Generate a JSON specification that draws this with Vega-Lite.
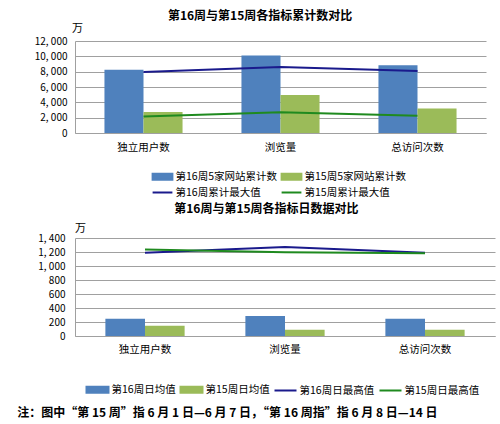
{
  "$schema": "https://vega.github.io/schema/vega-lite/v6.json",
  "padding": {"left": 17, "top": 10, "right": 5, "bottom": 0},
  "background": "white",
  "datasets": {
    "cumBars": [
      {"指标": "独立用户数", "系列": "第16周5家网站累计数", "值": 8250},
      {"指标": "独立用户数", "系列": "第15周5家网站累计数", "值": 2750},
      {"指标": "浏览量", "系列": "第16周5家网站累计数", "值": 10100},
      {"指标": "浏览量", "系列": "第15周5家网站累计数", "值": 4950},
      {"指标": "总访问次数", "系列": "第16周5家网站累计数", "值": 8850},
      {"指标": "总访问次数", "系列": "第15周5家网站累计数", "值": 3200}
    ],
    "cumLines": [
      {"指标": "独立用户数", "系列": "第16周累计最大值", "值": 7950},
      {"指标": "浏览量", "系列": "第16周累计最大值", "值": 8600},
      {"指标": "总访问次数", "系列": "第16周累计最大值", "值": 8100},
      {"指标": "独立用户数", "系列": "第15周累计最大值", "值": 2150},
      {"指标": "浏览量", "系列": "第15周累计最大值", "值": 2700},
      {"指标": "总访问次数", "系列": "第15周累计最大值", "值": 2250}
    ],
    "dayBars": [
      {"指标": "独立用户数", "系列": "第16周日均值", "值": 245},
      {"指标": "独立用户数", "系列": "第15周日均值", "值": 145},
      {"指标": "浏览量", "系列": "第16周日均值", "值": 285},
      {"指标": "浏览量", "系列": "第15周日均值", "值": 90},
      {"指标": "总访问次数", "系列": "第16周日均值", "值": 245},
      {"指标": "总访问次数", "系列": "第15周日均值", "值": 90}
    ],
    "dayLines": [
      {"指标": "独立用户数", "系列": "第16周日最高值", "值": 1190},
      {"指标": "浏览量", "系列": "第16周日最高值", "值": 1270},
      {"指标": "总访问次数", "系列": "第16周日最高值", "值": 1190},
      {"指标": "独立用户数", "系列": "第15周日最高值", "值": 1235},
      {"指标": "浏览量", "系列": "第15周日最高值", "值": 1195},
      {"指标": "总访问次数", "系列": "第15周日最高值", "值": 1182}
    ]
  },
  "title": {
    "text": "注：图中“第 15 周”指 6 月 1 日—6 月 7 日，“第 16 周指”指 6 月 8 日—14 日",
    "orient": "bottom",
    "anchor": "start",
    "frame": "bounds",
    "dx": -17,
    "offset": 11,
    "font": "Noto Sans CJK SC",
    "fontSize": 12,
    "fontWeight": "bold",
    "color": "black"
  },
  "spacing": 5,
  "resolve": {"scale": {"x": "independent", "y": "independent", "color": "independent", "xOffset": "independent"}},
  "vconcat": [
    {
      "title": {"text": "第16周与第15周各指标累计数对比", "frame": "bounds", "anchor": "middle", "offset": -1},
      "width": 411,
      "height": 92,
      "encoding": {
        "x": {
          "field": "指标", "type": "nominal",
          "sort": ["独立用户数", "浏览量", "总访问次数"],
          "scale": {"type": "band", "paddingInner": 0.43, "paddingOuter": 0.215},
          "axis": {"title": null, "labelAngle": 0, "ticks": false, "labelPadding": 9, "grid": false}
        },
        "y": {
          "field": "值", "type": "quantitative",
          "scale": {"domain": [0, 12000]},
          "axis": {
            "values": [0, 2000, 4000, 6000, 8000, 10000, 12000],
            "labelExpr": "replace(format(datum.value, ','), ',', ', ')",
            "grid": true, "labelOverlap": false,
            "title": "万", "titleAngle": 0, "titleX": 2, "titleY": -13,
            "titleAlign": "center", "titleBaseline": "middle",
            "labelPadding": 8
          }
        },
        "color": {
          "field": "系列", "type": "nominal",
          "scale": {
            "domain": ["第16周5家网站累计数", "第15周5家网站累计数", "第16周累计最大值", "第15周累计最大值"],
            "range": ["#4f81bd", "#9bbb59", "#1a1a8c", "#1f8a1f"]
          },
          "legend": {
            "title": null, "orient": "bottom", "columns": 2, "offset": 17,
            "symbolType": "M-1.8,-0.55H1.8V0.55H-1.8Z", "symbolSize": 121,
            "labelOffset": 6.5, "rowPadding": 2, "columnPadding": 0,
            "encode": {"symbols": {"update": {
              "shape": {"signal": "test(/最/, datum.value) ? 'M-1.8,0H1.8' : 'M-1.8,-0.55H1.8V0.55H-1.8Z'"},
              "fill": {"signal": "test(/最/, datum.value) ? 'transparent' : (test(/16周/, datum.value) ? '#4f81bd' : '#9bbb59')"},
              "stroke": {"signal": "test(/最/, datum.value) ? (test(/16周/, datum.value) ? '#1a1a8c' : '#1f8a1f') : 'transparent'"},
              "strokeWidth": {"value": 2},
              "opacity": {"value": 1}
            }}}
          }
        }
      },
      "layer": [
        {
          "data": {"name": "cumBars"},
          "mark": {"type": "bar", "width": {"band": 1}},
          "encoding": {
            "xOffset": {"field": "系列", "type": "nominal", "scale": {"domain": ["第16周5家网站累计数", "第15周5家网站累计数"], "paddingInner": 0, "paddingOuter": 0}}
          }
        },
        {
          "data": {"name": "cumLines"},
          "mark": {"type": "line", "strokeWidth": 2}
        }
      ]
    },
    {
      "title": {"text": "第16周与第15周各指标日数据对比", "frame": "bounds", "anchor": "middle", "offset": 6},
      "width": 420,
      "height": 98,
      "encoding": {
        "x": {
          "field": "指标", "type": "nominal",
          "sort": ["独立用户数", "浏览量", "总访问次数"],
          "scale": {"type": "band", "paddingInner": 0.434, "paddingOuter": 0.217},
          "axis": {"title": null, "labelAngle": 0, "ticks": false, "labelPadding": 8, "grid": false}
        },
        "y": {
          "field": "值", "type": "quantitative",
          "scale": {"domain": [0, 1400]},
          "axis": {
            "values": [0, 200, 400, 600, 800, 1000, 1200, 1400],
            "labelExpr": "replace(format(datum.value, ','), ',', ', ')",
            "grid": true, "labelOverlap": false,
            "title": "万", "titleAngle": 0, "titleX": 5, "titleY": -10,
            "titleAlign": "center", "titleBaseline": "middle",
            "labelPadding": 10
          }
        },
        "color": {
          "field": "系列", "type": "nominal",
          "scale": {
            "domain": ["第16周日均值", "第15周日均值", "第16周日最高值", "第15周日最高值"],
            "range": ["#4f81bd", "#9bbb59", "#1a1a8c", "#1f8a1f"]
          },
          "legend": {
            "title": null, "orient": "bottom", "columns": 4, "offset": 28,
            "symbolType": "M-2,-0.55H2V0.55H-2Z", "symbolSize": 121,
            "labelOffset": 7.5, "columnPadding": 0,
            "encode": {"symbols": {"update": {
              "shape": {"signal": "test(/最/, datum.value) ? 'M-2,0H2' : 'M-2,-0.55H2V0.55H-2Z'"},
              "fill": {"signal": "test(/最/, datum.value) ? 'transparent' : (test(/16周/, datum.value) ? '#4f81bd' : '#9bbb59')"},
              "stroke": {"signal": "test(/最/, datum.value) ? (test(/16周/, datum.value) ? '#1a1a8c' : '#1f8a1f') : 'transparent'"},
              "strokeWidth": {"value": 2},
              "opacity": {"value": 1}
            }}}
          }
        }
      },
      "layer": [
        {
          "data": {"name": "dayBars"},
          "mark": {"type": "bar", "width": {"band": 1}},
          "encoding": {
            "xOffset": {"field": "系列", "type": "nominal", "scale": {"domain": ["第16周日均值", "第15周日均值"], "paddingInner": 0, "paddingOuter": 0}}
          }
        },
        {
          "data": {"name": "dayLines"},
          "mark": {"type": "line", "strokeWidth": 2}
        }
      ]
    }
  ],
  "config": {
    "font": "Noto Sans CJK SC",
    "view": {"stroke": null},
    "title": {"fontSize": 12, "fontWeight": "bold", "color": "black"},
    "axis": {
      "labelFont": "Noto Sans CJK SC", "labelFontSize": 10, "labelColor": "black",
      "titleFont": "Noto Sans CJK SC", "titleFontSize": 11, "titleFontWeight": "normal", "titleColor": "black",
      "domainColor": "#a0a0a0", "gridColor": "#a0a0a0", "gridWidth": 1,
      "ticks": false
    },
    "axisX": {"labelFontSize": 10.5},
    "legend": {
      "labelFont": "Noto Sans CJK SC", "labelFontSize": 10.5, "labelColor": "black",
      "layout": {"bottom": {"anchor": "middle"}}
    }
  }
}
